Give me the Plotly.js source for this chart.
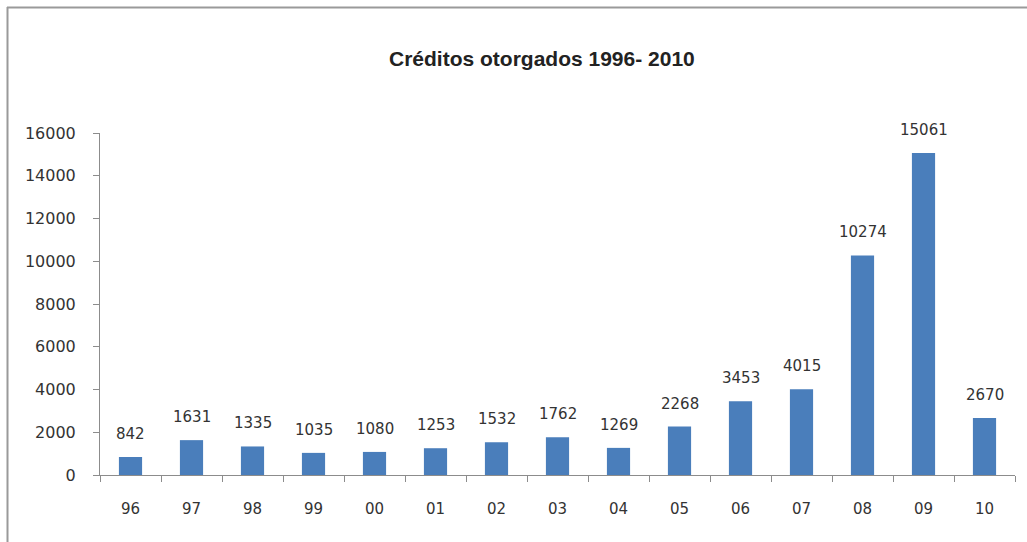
<!DOCTYPE html>
<html><head><meta charset="utf-8">
<script src="https://cdn.plot.ly/plotly-3.0.1.min.js"></script>
<style>html,body{margin:0;padding:0;background:#fff;}#chart{width:1027px;height:542px;}</style>
</head><body><div id="chart"></div>
<script>
const categories = ["96","97","98","99","00","01","02","03","04","05","06","07","08","09","10"];
const values = [842,1631,1335,1035,1080,1253,1532,1762,1269,2268,3453,4015,10274,15061,2670];
const yTicks = [0,2000,4000,6000,8000,10000,12000,14000,16000];
const titleText = "Créditos otorgados 1996- 2010";

const L = 100, R = 12, T = 133, B = 67, W = 1027, H = 542;
const pw = W - L - R, ph = H - T - B;
const px2x = p => (p - L) / pw;
const py2y = p => (H - B - p) / ph;

const labelFont = {family: "'DejaVu Sans', Verdana, sans-serif", size: 15, color: "#333"};
const yFont = {family: "'DejaVu Sans', Verdana, sans-serif", size: 16, color: "#333"};

const annotations = categories.map((c, i) => ({
  x: i, y: values[i], xref: "x", yref: "y", text: String(values[i]),
  showarrow: false, yanchor: "middle", yshift: 23, font: labelFont
}));
annotations.push({
  xref: "paper", yref: "paper", x: px2x(542), y: py2y(58), text: titleText,
  showarrow: false, xanchor: "center", yanchor: "middle",
  font: {family: "'Liberation Sans', Arial, sans-serif", size: 21, color: "#222", weight: "bold"}
});

const data = [{
  type: "bar", x: categories, y: values,
  marker: {color: "#4A7EBB"}, hoverinfo: "x+y"
}];

const layout = {
  width: W, height: H,
  margin: {l: L, r: R, t: T, b: B, pad: 0},
  paper_bgcolor: "#fff", plot_bgcolor: "#fff",
  showlegend: false, bargap: 0.62,
  xaxis: {
    type: "category", categoryorder: "array", categoryarray: categories,
    range: [-0.5, categories.length - 0.5], autorange: false, tickangle: 0,
    showline: true, linecolor: "#8c8c8c", linewidth: 1,
    ticks: "outside", tickson: "boundaries", ticklen: 6, tickcolor: "#8c8c8c",
    showgrid: false, zeroline: false, ticklabelstandoff: 20,
    tickfont: labelFont, fixedrange: true
  },
  yaxis: {
    range: [0, 16000], autorange: false, tickvals: yTicks, ticktext: yTicks.map(String),
    showline: true, linecolor: "#8c8c8c", linewidth: 1,
    ticks: "outside", ticklen: 6, tickcolor: "#8c8c8c",
    showgrid: false, zeroline: false, ticklabelstandoff: 14,
    tickfont: yFont, fixedrange: true
  },
  annotations: annotations,
  shapes: [
    {type: "line", xref: "paper", yref: "paper", x0: px2x(7.5), x1: px2x(7.5), y0: py2y(7), y1: py2y(545), line: {color: "#9a9a9a", width: 2}},
    {type: "line", xref: "paper", yref: "paper", x0: px2x(7), x1: px2x(1030), y0: py2y(7.5), y1: py2y(7.5), line: {color: "#9a9a9a", width: 2}}
  ]
};

Plotly.newPlot("chart", data, layout, {displayModeBar: false, staticPlot: true});
</script></body></html>
